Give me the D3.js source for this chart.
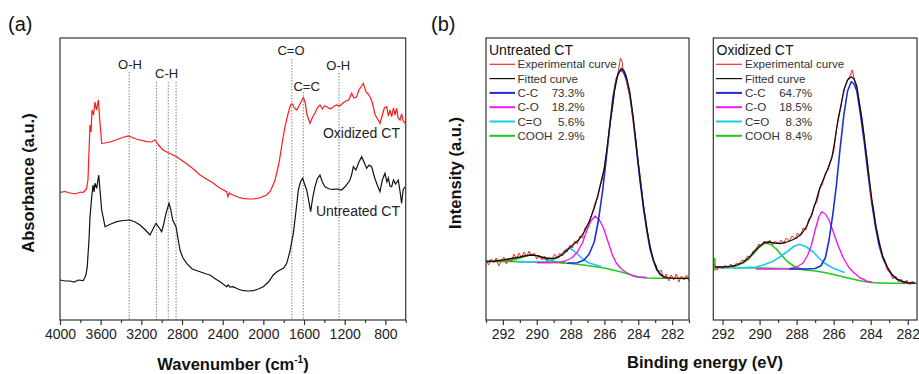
<!DOCTYPE html>
<html><head><meta charset="utf-8">
<script src="https://cdn.jsdelivr.net/npm/d3@7"></script>
<style>body{margin:0;background:#fff} svg{display:block;font-family:"Liberation Sans",Arial,sans-serif}</style>
</head><body><svg id="c" width="919" height="374"></svg>
<script>
// ---------- Panel (a): FTIR ----------
const ftirTicks = [4000,3600,3200,2800,2400,2000,1600,1200,800];
const ftirMinor = [3800,3400,3000,2600,2200,1800,1400,1000,600];
const oxidizedCT = [[4000,127.7],[3950,128.5],[3902,127],[3850,126],[3800,128],[3774,127.5],[3740,131],[3725,140],[3705,195],[3695,188],[3685,210],[3670,205],[3656,218],[3641,210],[3623,220],[3605,195],[3590,176.7],[3560,177],[3508,178],[3450,180],[3400,182],[3328,184],[3250,181],[3147,178.3],[3100,178],[3066,180],[3030,175],[2987,170],[2930,167],[2852,163.3],[2780,158],[2700,152],[2623,145],[2560,141],[2495,137],[2430,132],[2361,128.3],[2348,123.3],[2335,127],[2320,126],[2299,125],[2250,123],[2200,121.7],[2150,121],[2102,121],[2040,122],[1967,125],[1930,129],[1905,135],[1885,140],[1869,147],[1850,155],[1836,163.3],[1810,180],[1787,193.3],[1760,205],[1738,213.3],[1725,216],[1712,215.7],[1695,212],[1672,210],[1650,214],[1625,219],[1607,222.3],[1590,218],[1570,205],[1541,196.7],[1515,203],[1492,207],[1470,212],[1443,215],[1420,211],[1400,214],[1377,213.3],[1340,211],[1300,214],[1279,215],[1250,214],[1217,217],[1190,219],[1160,220],[1131,226.7],[1110,222],[1082,223.3],[1060,230],[1040,233],[1017,236.7],[990,228],[970,226],[951,223.3],[930,218],[900,205],[870,200],[853,196.7],[830,205],[810,212],[787,213.3],[770,204],[755,210],[738,203.3],[720,212],[705,205],[689,211.7],[675,202],[656,200],[640,206],[625,199],[607,197]];
const untreatedCT = [[4000,40],[3950,39],[3902,39],[3860,38],[3820,40],[3771,39.3],[3745,45],[3732,53.3],[3715,80],[3705,103.3],[3688,123.3],[3675,135],[3665,128],[3656,136.7],[3639,131.7],[3630,138],[3619,145],[3605,128],[3590,110],[3557,93.3],[3500,96],[3442,98.3],[3380,99.5],[3312,100],[3260,98],[3213,95],[3160,90],[3115,85],[3080,92],[3056,96.7],[3030,93],[3000,88.3],[2980,96],[2957,106.7],[2928,116.7],[2910,110],[2892,100],[2859,93.3],[2840,82],[2820,70],[2790,62],[2754,56.7],[2700,51],[2623,48.3],[2560,46],[2525,45],[2470,41],[2426,38.3],[2361,33.3],[2345,35],[2330,33],[2299,33.3],[2250,31],[2197,29.3],[2150,29],[2099,29.3],[2050,31],[2001,33.3],[1950,38],[1902,45],[1870,48],[1836,50],[1800,52],[1770,56.7],[1740,68],[1705,86.7],[1680,108],[1656,130],[1635,138],[1613,141.7],[1595,136],[1574,130],[1555,120],[1535,108.3],[1515,122],[1492,133.3],[1470,141],[1443,145],[1420,138],[1394,133.3],[1350,131],[1312,130.7],[1270,131],[1230,130],[1190,134],[1148,140],[1130,146],[1115,153.3],[1090,150],[1060,158],[1033,163.3],[1010,158],[984,151.7],[960,155],[935,153.3],[905,142],[880,135],[853,128.3],[830,140],[804,146.7],[785,138],[770,142],[755,134],[738,133.3],[720,140],[700,136],[673,140],[655,128],[640,116.7],[625,130],[607,133.3]];
const bandLines = [[3320,248],[3050,238],[2935,238],[2858,238],[1720,261],[1607,228],[1256,247]];
const bandLabels = [["O-H",3312,256],["C-H",2951,247],["C=O",1728,270],["C=C",1574,234],["O-H",1263,255]];
const seriesLabelsA = [["Oxidized CT",676,186.7],["Untreated CT",676,109]];

// ---------- Panel (b): XPS C1s ----------
const xpsTicks = [292,290,288,286,284,282];
const xpsMinor = [293,291,289,287,285,283,281];
const legendNames = ["Experimental curve","Fitted curve","C-C","C-O","C=O","COOH"];
const untreatedPct = ["","","73.3%","18.2%","5.6%","2.9%"];
const oxidizedPct = ["","","64.7%","18.5%","8.3%","8.4%"];

const untreatedExp = [[293,60],[292.85,55],[292.7,61],[292.55,57],[292.4,62],[292.25,54],[292.1,59],[291.95,63],[291.8,56],[291.65,62],[291.5,58],[291.35,66],[291.2,61],[291.05,67],[290.9,62],[290.75,68],[290.6,63],[290.45,69],[290.3,64],[290.15,67],[290,61],[289.85,65],[289.7,60],[289.55,64],[289.4,59],[289.25,63],[289.1,60],[288.95,66],[288.8,62],[288.65,67],[288.5,64],[288.35,70],[288.2,68],[288.05,75],[287.9,72],[287.75,79],[287.6,76],[287.45,84],[287.3,82],[287.15,92],[287,95],[286.85,101],[286.7,108],[286.55,117],[286.4,122],[286.25,134],[286.1,142],[285.95,160],[285.8,175],[285.65,198],[285.5,214],[285.35,236],[285.2,246],[285.05,262],[284.95,258],[284.9,250],[284.75,246],[284.6,232],[284.45,220],[284.3,200],[284.15,182],[284,158],[283.85,140],[283.7,116],[283.55,100],[283.4,82],[283.25,70],[283.1,58],[282.95,55],[282.8,47],[282.65,50],[282.5,41],[282.35,46],[282.2,39],[282.05,45],[281.9,40],[281.75,46],[281.6,38],[281.45,44],[281.3,40],[281.15,45],[281,39]];
const untreatedFit = [[293,58.5],[292.5,59],[292,60],[291.5,61.5],[291,63],[290.6,64.5],[290.3,65],[290,64.3],[289.6,62.5],[289.3,61.5],[289,61.7],[288.7,63],[288.4,66.5],[288.1,71.5],[287.8,76],[287.5,80.5],[287.2,88],[286.9,98],[286.6,112],[286.4,124],[286.2,138],[286,152],[285.8,178],[285.6,205],[285.4,230],[285.2,246],[285,251.7],[284.85,249.5],[284.7,243],[284.5,228],[284.3,203],[284.1,172],[283.9,142],[283.7,115],[283.5,92],[283.3,73],[283.1,60],[282.9,51],[282.7,46],[282.5,43.5],[282.3,42.3],[282,41.8],[281,41.7]];
const untreatedCC = [[288.2,56.8],[287.6,57.3],[287.2,60],[286.9,66],[286.6,78],[286.35,100],[286.1,130],[285.9,160],[285.7,192],[285.5,222],[285.3,241],[285.1,249],[284.98,249.5],[284.85,247],[284.7,240],[284.5,225],[284.3,200],[284.1,170],[283.9,140],[283.7,113],[283.5,90],[283.3,71],[283.1,59],[282.9,50],[282.7,45.5],[282.5,43],[282.3,42]];
const untreatedCO = [[290,57.3],[289.3,57.3],[288.8,57.6],[288.3,59],[287.9,62.5],[287.6,68],[287.3,77],[287.05,89],[286.8,99],[286.55,104],[286.3,100],[286.05,92],[285.8,79],[285.55,66],[285.3,57],[285,51],[284.7,47.5],[284.3,44],[284,43],[283.5,42.5]];
const untreatedCdO = [[291.2,58.2],[290.5,58.1],[290,58.1],[289.5,58.3],[289.1,59.5],[288.8,62],[288.5,66.5],[288.3,70],[288.15,71.7],[288,71.3],[287.8,69],[287.5,64.5],[287.2,60],[286.9,57],[286.5,55],[286.2,53.8]];
const untreatedCOOH = [[292.5,58.5],[291.8,59],[291.3,60.5],[290.9,62.5],[290.6,64.2],[290.3,65],[290,64.3],[289.7,62.3],[289.4,60.3],[289.1,58.8],[288.7,57.8],[288.3,57]];
const untreatedBg = [[293,58.5],[292,58.5],[291,58.4],[290,58],[289,57.5],[288,56.5],[287.5,55.5],[287,54.5],[286.5,53.3],[286,52],[285.5,50],[285,48],[284.5,45.5],[284,43],[283.5,42],[283,41.7],[282,41.7],[281,41.7]];

const oxidizedExp = [[292.45,56],[292.3,50],[292.15,54],[292,51],[291.85,55],[291.7,52],[291.55,56],[291.4,53],[291.25,57],[291.1,56],[290.95,60],[290.8,59],[290.65,64],[290.5,63],[290.35,69],[290.2,71],[290.05,76],[289.9,74],[289.75,79],[289.6,76],[289.45,80],[289.3,75],[289.15,79],[289,76],[288.85,80],[288.7,77],[288.55,82],[288.4,79],[288.25,84],[288.1,81],[287.95,87],[287.8,84],[287.65,92],[287.5,90],[287.35,101],[287.2,103],[287.05,115],[286.9,118],[286.75,131],[286.6,136],[286.45,147],[286.3,150],[286.15,160],[286,168],[285.85,190],[285.7,205],[285.55,220],[285.4,232],[285.25,240],[285.1,245],[285,250],[284.9,242],[284.75,235],[284.6,216],[284.45,200],[284.3,176],[284.15,155],[284,125],[283.85,112],[283.7,92],[283.55,80],[283.4,64],[283.25,60],[283.1,50],[282.95,47],[282.8,41],[282.65,44],[282.5,38],[282.35,41],[282.2,36],[282.05,40],[281.9,35],[281.75,39],[281.6,36]];
const oxidizedFit = [[292.4,53],[291.8,53.2],[291.3,54.5],[290.9,57.5],[290.6,62],[290.3,68],[290,74],[289.75,77.5],[289.5,78],[289.2,77],[288.9,76.5],[288.6,77.5],[288.3,79.5],[288,82],[287.7,87],[287.45,94],[287.2,105],[286.95,119],[286.75,132],[286.5,143],[286.3,152],[286.1,162],[285.95,178],[285.77,200],[285.6,215],[285.45,230],[285.25,240],[285.05,243.3],[284.9,241],[284.75,233],[284.55,210],[284.35,183],[284.15,152],[283.95,122],[283.75,97],[283.55,78],[283.35,64],[283.1,53],[282.85,45.5],[282.6,41.2],[282.3,38.5],[282,37.3],[281.6,36.8]];
const oxidizedCC = [[288.4,51],[287.5,51],[287,51.5],[286.7,54],[286.45,62],[286.25,80],[286.05,105],[285.85,135],[285.65,172],[285.45,205],[285.25,229],[285.05,238.3],[284.9,236],[284.75,229],[284.55,205],[284.35,178],[284.15,147],[283.95,118],[283.75,94],[283.55,75],[283.35,62],[283.1,52],[282.85,45],[282.6,41],[282.3,38.5],[282,37.3],[281.6,36.8]];
const oxidizedCO = [[290.2,51],[289.2,51],[288.4,51.2],[288,53],[287.65,57],[287.4,65],[287.2,75],[287,90],[286.8,103],[286.65,108.3],[286.45,106],[286.25,100],[286,87],[285.75,74],[285.5,63],[285.2,53],[284.95,48],[284.6,42.5],[284.2,38.8],[283.9,37.8]];
const oxidizedCdO = [[292.3,52.3],[291.5,52.3],[290.8,52.4],[290.2,53],[289.8,55],[289.3,58.5],[288.9,63],[288.5,68.5],[288.15,73.5],[287.85,75.7],[287.5,73.5],[287.1,68],[286.8,62],[286.5,57],[286.1,52.5],[285.7,49.5],[285.4,47.5]];
const oxidizedCOOH = [[292.42,62],[292.41,50],[292.4,53],[291.8,53],[291.3,54],[290.9,57],[290.6,61],[290.3,67],[290,73],[289.75,76.3],[289.6,76.7],[289.4,75.5],[289.1,71],[288.8,64.5],[288.5,58.5],[288.2,54.5],[287.9,52],[287.5,50.3]];
const oxidizedBg = [[292.5,52.5],[291,52.3],[290,52],[289,51.5],[288,51],[287.5,50],[287,49],[286.5,47.5],[286,45.5],[285.5,43.3],[285,41],[284.5,39],[284,37.5],[283.5,37],[283,36.7],[281.5,36.7]];

// ---------- drawing ----------
const svg = d3.select("#c");
const FRAME = "#333";
const colors = {exp:"#ff2a2a", fit:"#111", cc:"#1c2fd6", co:"#ee1aee", cdo:"#1ec8f0", cooh:"#22c722"};
const widths = {exp:1, fit:1.3, cc:1.6, co:1.4, cdo:1.6, cooh:1.6};

function frame(g, x0, x1, y0, y1){
  g.append("rect").attr("x",x0).attr("y",y0).attr("width",x1-x0).attr("height",y1-y0)
   .attr("fill","none").attr("stroke",FRAME).attr("stroke-width",1.2);
}
function xaxis(g, x, y0, major, minor){
  const ax = g.append("g").attr("transform",`translate(0,${y0})`)
    .call(d3.axisBottom(x).tickValues(major).tickSize(5).tickPadding(4).tickFormat(d3.format("d")));
  ax.select(".domain").remove();
  ax.selectAll("text").attr("font-size",14).attr("fill","#222").attr("font-family","Liberation Sans, Arial, sans-serif");
  ax.selectAll("line").attr("stroke",FRAME).attr("stroke-width",1.2);
  const mn = g.append("g").attr("transform",`translate(0,${y0})`)
    .call(d3.axisBottom(x).tickValues(minor).tickSize(3).tickFormat(""));
  mn.select(".domain").remove();
  mn.selectAll("line").attr("stroke",FRAME).attr("stroke-width",1.2);
}

// Panel (a)
const xa = d3.scaleLinear().domain([4000,600]).range([60,405.7]);
const ya = d3.scaleLinear().domain([0,282]).range([320,38]);
const ga = svg.append("g");
const lineA = d3.line().x(d=>xa(d[0])).y(d=>ya(d[1]));
ga.selectAll("line.band").data(bandLines).enter().append("line")
  .attr("x1",d=>xa(d[0])).attr("x2",d=>xa(d[0])).attr("y1",d=>ya(d[1])).attr("y2",ya(0))
  .attr("stroke","#777").attr("stroke-width",0.9).attr("stroke-dasharray","1.5,1.5");
ga.append("path").attr("d",lineA(untreatedCT)).attr("fill","none").attr("stroke","#111").attr("stroke-width",1.2);
ga.append("path").attr("d",lineA(oxidizedCT)).attr("fill","none").attr("stroke","#ff1a1a").attr("stroke-width",1.2);
frame(ga,60,405.7,38,320);
xaxis(ga,xa,320,ftirTicks,ftirMinor);
ga.selectAll("text.band").data(bandLabels).enter().append("text")
  .attr("x",d=>xa(d[1])).attr("y",d=>ya(d[2])).attr("dy","0.35em").attr("text-anchor","middle")
  .attr("font-size",13).attr("fill","#222").text(d=>d[0]);
ga.selectAll("text.ser").data(seriesLabelsA).enter().append("text")
  .attr("x",d=>xa(d[1])+2).attr("y",d=>ya(d[2])).attr("dy","0.35em").attr("text-anchor","end")
  .attr("font-size",14).attr("fill","#222").text(d=>d[0]);
ga.append("text").attr("transform","translate(34,183) rotate(-90)").attr("text-anchor","middle")
  .attr("font-size",16.5).attr("font-weight","bold").attr("fill","#111").text("Absorbance (a.u.)");
const wl = ga.append("text").attr("x",233).attr("y",370).attr("text-anchor","middle")
  .attr("font-size",16.5).attr("font-weight","bold").attr("fill","#111");
wl.append("tspan").text("Wavenumber (cm");
wl.append("tspan").attr("font-size",10).attr("dy",-7).text("-1");
wl.append("tspan").attr("dy",7).text(")");
svg.append("text").attr("x",8).attr("y",31).attr("font-size",20).attr("fill","#111").text("(a)");
svg.append("text").attr("x",431).attr("y",31).attr("font-size",20).attr("fill","#111").text("(b)");

// Panel (b)
const yb = d3.scaleLinear().domain([0,282]).range([320,38]);
function xps(x0,x1,dom,title,pct,S,lx0,lx1,ltx,lpx){
  const x = d3.scaleLinear().domain(dom).range([x0,x1]);
  const g = svg.append("g");
  const ln = d3.line().x(d=>x(d[0])).y(d=>yb(d[1]));
  const draw = (data,key)=>g.append("path").attr("d",ln(data)).attr("fill","none")
     .attr("stroke",colors[key]).attr("stroke-width",widths[key]).attr("stroke-linejoin","round");
  draw(S.bg,"cooh");
  draw(S.cooh,"cooh");
  draw(S.cdo,"cdo");
  draw(S.co,"co");
  draw(S.cc,"cc");
  draw(S.exp,"exp");
  draw(S.fit,"fit");
  frame(g,x0,x1,38,320);
  xaxis(g,x,320,xpsTicks,xpsMinor.filter(v=>v<=dom[0]&&v>=dom[1]));
  g.append("text").attr("x",ltx-28.5).attr("y",54.5).attr("font-size",14).attr("fill","#111").text(title);
  const keys = ["exp","fit","cc","co","cdo","cooh"];
  const rows = g.selectAll("g.row").data(legendNames).enter().append("g")
     .attr("transform",(d,i)=>`translate(0,${64.3+i*14.3})`);
  rows.append("line").attr("x1",lx0).attr("x2",lx1).attr("y1",0).attr("y2",0)
     .attr("stroke",(d,i)=>colors[keys[i]]).attr("stroke-width",(d,i)=>i>=2?2:1.2);
  rows.append("text").attr("x",ltx).attr("y",0).attr("dy","0.35em").attr("font-size",11.6).attr("fill","#333").text(d=>d);
  rows.append("text").attr("x",lpx).attr("y",0).attr("dy","0.35em").attr("text-anchor","end").attr("font-size",11.6).attr("fill","#333").text((d,i)=>pct[i]);
}
xps(486,689,[293,281],"Untreated CT",untreatedPct,
  {exp:untreatedExp,fit:untreatedFit,cc:untreatedCC,co:untreatedCO,cdo:untreatedCdO,cooh:untreatedCOOH,bg:untreatedBg},
  489.5,515,517.5,584.5);
xps(713.3,917,[292.5,281.5],"Oxidized CT",oxidizedPct,
  {exp:oxidizedExp,fit:oxidizedFit,cc:oxidizedCC,co:oxidizedCO,cdo:oxidizedCdO,cooh:oxidizedCOOH,bg:oxidizedBg},
  716,742,745,812);
svg.append("text").attr("transform","translate(461,173) rotate(-90)").attr("text-anchor","middle")
  .attr("font-size",16.5).attr("font-weight","bold").attr("fill","#111").text("Intensity (a.u.)");
svg.append("text").attr("x",705).attr("y",368).attr("text-anchor","middle")
  .attr("font-size",16.5).attr("font-weight","bold").attr("fill","#111").text("Binding energy (eV)");
</script></body></html>
